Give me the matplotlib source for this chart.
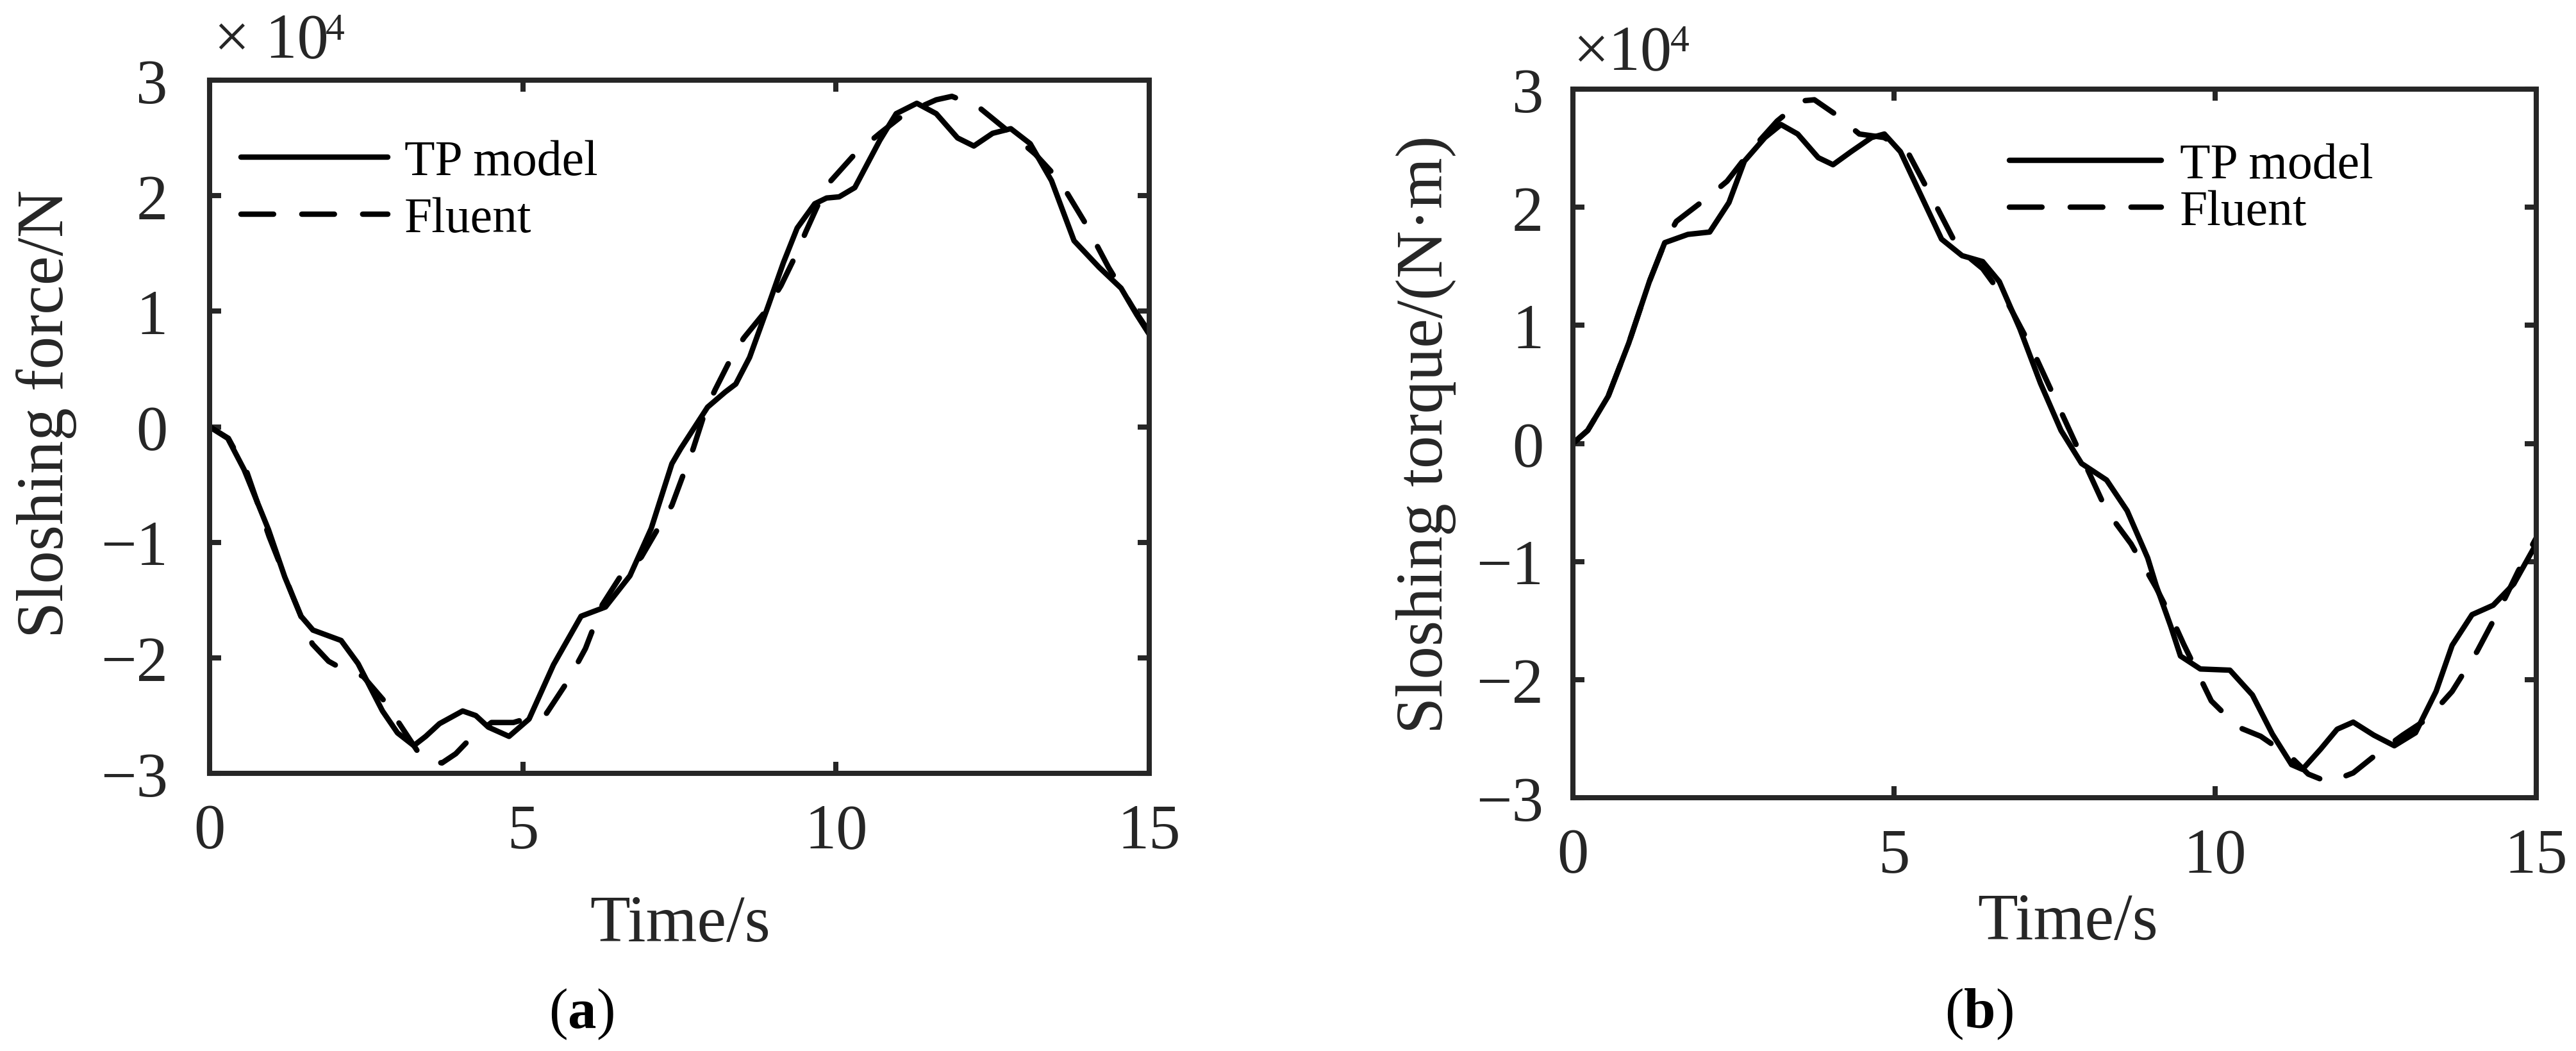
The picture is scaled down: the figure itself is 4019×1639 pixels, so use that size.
import matplotlib
matplotlib.use('Agg')
import matplotlib.pyplot as plt

plt.rcParams['font.family'] = ['Liberation Serif', 'DejaVu Serif']
plt.rcParams['mathtext.fontset'] = 'custom'
plt.rcParams['mathtext.rm'] = 'Liberation Serif'
plt.rcParams['mathtext.bf'] = 'Liberation Serif:bold'

# ---------------- data (values in units of 1e4) ----------------
time_a_tp = [0, 0.29, 0.55, 0.94, 1.2, 1.46, 1.65, 1.9, 2.1, 2.37, 2.76, 3.0, 3.26, 3.45, 3.67,
             4.04, 4.25, 4.45, 4.78, 5.1, 5.49, 5.93, 6.32, 6.71, 7.05, 7.38, 7.52, 7.95, 8.23,
             8.4, 8.62, 8.92, 9.16, 9.38, 9.66, 9.85, 10.05, 10.3, 10.7, 10.96, 11.29, 11.6,
             11.94, 12.2, 12.5, 12.79, 13.1, 13.44, 13.8, 14.2, 14.55, 14.8, 15]
force_tp = [0, -0.1, -0.37, -0.89, -1.3, -1.64, -1.76, -1.81, -1.85, -2.05, -2.46, -2.65, -2.76,
            -2.68, -2.57, -2.46, -2.5, -2.6, -2.68, -2.53, -2.06, -1.64, -1.56, -1.29, -0.88,
            -0.32, -0.19, 0.17, 0.3, 0.37, 0.6, 1.05, 1.42, 1.72, 1.93, 1.98, 1.99, 2.07, 2.48,
            2.71, 2.8, 2.71, 2.5, 2.43, 2.54, 2.58, 2.45, 2.13, 1.61, 1.38, 1.2, 0.97, 0.8]

time_a_fl = [0, 0.3, 0.6, 0.95, 1.33, 1.64, 1.9, 2.1, 2.45, 2.83, 3.03, 3.37, 3.6, 3.71, 3.93,
             4.16, 4.5, 4.85, 5.1, 5.38, 5.72, 6.0, 6.27, 6.6, 6.89, 7.18, 7.38, 7.6, 7.72, 7.91,
             8.07, 8.34, 8.53, 8.86, 9.12, 9.38, 9.52, 9.77, 9.92, 10.3, 10.7, 11.1, 11.6, 11.85,
             12.27, 12.79, 13.18, 13.57, 13.96, 14.35, 14.74, 15]
force_fl = [0, -0.1, -0.4, -0.95, -1.47, -1.88, -2.03, -2.09, -2.16, -2.4, -2.57, -2.85, -2.9,
            -2.91, -2.83, -2.7, -2.56, -2.56, -2.52, -2.48, -2.2, -1.92, -1.54, -1.26, -1.13,
            -0.86, -0.68, -0.36, -0.19, 0.13, 0.32, 0.61, 0.77, 0.99, 1.22, 1.51, 1.69, 1.99,
            2.13, 2.36, 2.54, 2.71, 2.83, 2.86, 2.77, 2.54, 2.36, 2.13, 1.78, 1.38, 1.03, 0.82]

time_b_tp = [0, 0.23, 0.55, 0.87, 1.19, 1.43, 1.79, 2.13, 2.43, 2.67, 2.99, 3.24, 3.5, 3.82, 4.05,
             4.33, 4.65, 4.85, 5.1, 5.42, 5.74, 6.06, 6.38, 6.64, 6.96, 7.28, 7.6, 7.92, 8.31,
             8.63, 8.95, 9.08, 9.31, 9.46, 9.77, 10.23, 10.58, 10.89, 11.19, 11.36, 11.64, 11.9,
             12.15, 12.47, 12.79, 13.12, 13.44, 13.69, 14.0, 14.33, 14.65, 15]
torque_tp = [0, 0.11, 0.4, 0.85, 1.37, 1.7, 1.77, 1.79, 2.04, 2.39, 2.59, 2.7, 2.62, 2.42, 2.36,
             2.47, 2.59, 2.62, 2.47, 2.1, 1.73, 1.59, 1.54, 1.37, 0.97, 0.51, 0.11, -0.17, -0.31,
             -0.57, -0.97, -1.2, -1.55, -1.8, -1.91, -1.92, -2.13, -2.46, -2.72, -2.76, -2.59,
             -2.42, -2.36, -2.47, -2.56, -2.45, -2.1, -1.71, -1.45, -1.37, -1.19, -0.85]

time_b_fl = [0, 0.23, 0.55, 0.87, 1.19, 1.43, 1.61, 2.09, 2.4, 2.8, 3.18, 3.56, 3.76, 4.08, 4.46,
             4.85, 5.23, 5.62, 6.0, 6.38, 6.77, 7.15, 7.54, 7.92, 8.31, 8.69, 9.08, 9.36, 9.51,
             9.77, 9.94, 10.35, 10.71, 11.19, 11.45, 11.77, 12.15, 12.54, 12.92, 13.31, 13.69,
             14.08, 14.46, 14.72, 15]
torque_fl = [0, 0.11, 0.4, 0.85, 1.37, 1.7, 1.88, 2.08, 2.22, 2.5, 2.73, 2.9, 2.91, 2.79, 2.62,
             2.59, 2.45, 2.05, 1.65, 1.48, 1.19, 0.8, 0.34, -0.11, -0.57, -0.85, -1.22, -1.52,
             -1.7, -1.99, -2.18, -2.4, -2.48, -2.66, -2.8, -2.87, -2.79, -2.62, -2.47, -2.33,
             -2.1, -1.76, -1.37, -1.08, -0.8]

x_ticks = [0, 5, 10, 15]
y_ticks = [-3, -2, -1, 0, 1, 2, 3]
series_labels = ['TP model', 'Fluent']
xlabel_text = 'Time/s'
ylabel_a = 'Sloshing force/N'
ylabel_b = 'Sloshing torque/(N·m)'

# ---------------- styling ----------------
INK = '#262626'
LW = 6.1
SPINE_LW = 5.8
DASH = (0, (6.0, 5.2))

fig = plt.figure(figsize=(40.19, 16.40), dpi=100)
ax_a = fig.add_axes([0.08136, 0.26402, 0.36477, 0.65915])
ax_b = fig.add_axes([0.61060, 0.24085, 0.37397, 0.67378])


def style(ax, ypad):
    ax.set_xlim(0, 15)
    ax.set_ylim(-3, 3)
    ax.set_xticks(x_ticks)
    ax.set_yticks(y_ticks)
    ax.set_xticklabels([str(t) for t in x_ticks])
    ax.set_yticklabels([str(t).replace('-', '\u2212') for t in y_ticks])
    ax.tick_params(direction='in', length=13, width=SPINE_LW, colors=INK,
                   labelsize=71, top=True, right=True)
    ax.tick_params(axis='y', pad=ypad)
    ax.tick_params(axis='x', pad=33)
    for s in ax.spines.values():
        s.set_linewidth(SPINE_LW)
        s.set_color(INK)
        s.set_zorder(3)


def draw(ax, t1, v1, t2, v2):
    ax.plot(t1, v1, color='black', lw=LW, solid_capstyle='round',
            solid_joinstyle='round', label=series_labels[0])
    ax.plot(t2, v2, color='black', lw=LW, linestyle=DASH, dash_capstyle='round',
            dash_joinstyle='round', label=series_labels[1])


draw(ax_a, time_a_tp, force_tp, time_a_fl, force_fl)
draw(ax_b, time_b_tp, torque_tp, time_b_fl, torque_fl)
style(ax_a, 47)
style(ax_b, 33)

# axis labels
for ax, yl, xc, xb, yc, ybl in [(ax_a, ylabel_a, 0.501, -0.2414, 0.52, -0.156),
                                (ax_b, ylabel_b, 0.514, -0.199, 0.5136, -0.1357)]:
    ax.set_xlabel(xlabel_text, fontsize=74, color=INK)
    ax.xaxis.set_label_coords(xc, xb)
    ax.xaxis.label.set_va('baseline')
    ax.set_ylabel(yl, fontsize=74, color=INK)
    ax.yaxis.set_label_coords(ybl, yc)
    ax.yaxis.label.set_rotation_mode('anchor')
    ax.yaxis.label.set_va('baseline')
    ax.yaxis.label.set_ha('center')

# exponent annotations
ax_a.text(0.0048, 1.0342, '\u00d7 10', transform=ax_a.transAxes, fontsize=71,
          color=INK, ha='left', va='baseline')
ax_a.text(0.1235, 1.0592, '4', transform=ax_a.transAxes, fontsize=43,
          color=INK, ha='left', va='baseline')
ax_b.text(0.0, 1.029, '\u00d710', transform=ax_b.transAxes, fontsize=71,
          color=INK, ha='left', va='baseline')
ax_b.text(0.101, 1.0543, '4', transform=ax_b.transAxes, fontsize=43,
          color=INK, ha='left', va='baseline')

# legends
ax_a.legend(loc='center left', bbox_to_anchor=(0.0334, 0.840), frameon=False, fontsize=56,
            handlelength=2.95, handletextpad=0.33, labelspacing=0.22, borderpad=0,
            borderaxespad=0)
ax_b.legend(loc='center left', bbox_to_anchor=(0.4531, 0.8588), frameon=False, fontsize=56,
            handlelength=3.05, handletextpad=0.37, labelspacing=0.02, borderpad=0,
            borderaxespad=0)

# panel captions
fig.text(0.2257, 0.02256, r'($\mathbf{a}$)', fontsize=64, ha='center', va='baseline')
fig.text(0.7681, 0.02256, r'($\mathbf{b}$)', fontsize=64, ha='center', va='baseline')

fig.savefig('out.png', dpi=100)
